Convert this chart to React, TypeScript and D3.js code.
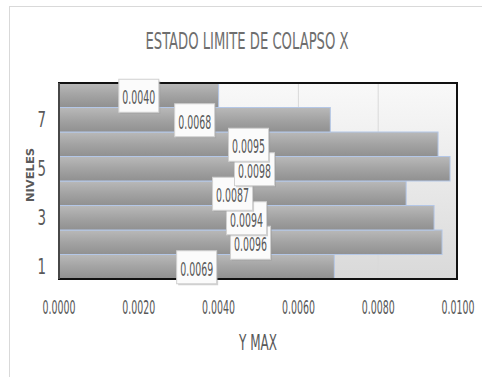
import React from "react";
import * as d3 from "d3";

const levels = [1, 2, 3, 4, 5, 6, 7, 8];
const values = [0.0069, 0.0096, 0.0094, 0.0087, 0.0098, 0.0095, 0.0068, 0.004];
const xTicks = [0, 0.002, 0.004, 0.006, 0.008, 0.01];
const yTickLabels = [1, 3, 5, 7];
const title = "ESTADO LIMITE DE COLAPSO X";
const xTitle = "Y MAX";
const yTitle = "NIVELES";

const W = 482;
const H = 377;
const M = { left: 59, right: 457, top: 83, bottom: 279 };
const FONT = "'Liberation Sans Narrow', 'DejaVu Sans Condensed', 'Liberation Sans', sans-serif";
const TXT = "#595959";

export default function App() {
  const x = d3.scaleLinear().domain([0, 0.01]).range([M.left, M.right + 1]);
  const y = d3
    .scaleBand<number>()
    .domain(levels.slice().reverse())
    .range([M.top, M.bottom])
    .padding(0);
  const fmt = d3.format(".4f");
  const bw = y.bandwidth();

  return (
    <svg
      width={W}
      height={H}
      style={{ position: "absolute", left: 0, top: 0, background: "#fff" }}
    >
      <defs>
        <linearGradient id="plotBg" x1="0" y1="0" x2="0" y2="1">
          <stop offset="0" stopColor="#f9f9f9" />
          <stop offset="1" stopColor="#d9d9d9" />
        </linearGradient>
        <linearGradient id="barG" x1="0" y1="0" x2="0" y2="1">
          <stop offset="0" stopColor="#b9b9b9" />
          <stop offset="0.5" stopColor="#a3a3a3" />
          <stop offset="1" stopColor="#909090" />
        </linearGradient>
      </defs>
      <rect x={9.5} y={6.5} width={W} height={H} fill="#fff" stroke="#d9d9d9" />
      <text
        x={247}
        y={49}
        fontFamily={FONT}
        fontSize={23.5}
        fill="#6e6e6e"
        textLength={203}
        lengthAdjust="spacingAndGlyphs"
        textAnchor="middle"
      >
        {title}
      </text>
      <rect
        x={M.left}
        y={M.top}
        width={M.right - M.left}
        height={M.bottom - M.top}
        fill="url(#plotBg)"
      />
      {xTicks.slice(1, -1).map((t) => (
        <line
          key={t}
          x1={x(t)}
          x2={x(t)}
          y1={M.top}
          y2={M.bottom}
          stroke="#d9d9d9"
          strokeWidth={1}
        />
      ))}
      {levels.map((l, i) => (
        <rect
          key={l}
          x={M.left}
          y={y(l)!}
          width={x(values[i]) - M.left}
          height={bw}
          fill="url(#barG)"
          stroke="#b4c7e7"
          strokeWidth={1}
        />
      ))}
      <rect
        x={M.left}
        y={M.top}
        width={M.right - M.left}
        height={M.bottom - M.top}
        fill="none"
        stroke="#111"
        strokeWidth={2}
      />
      <line x1={M.left} x2={M.left} y1={M.top} y2={M.bottom} stroke="#7f7f7f" strokeWidth={1} />
      {levels.map((l, i) => {
        const cx = x(values[i] / 2);
        const cy = y(l)! + bw / 2;
        return (
          <g key={"lab" + l}>
            <rect x={cx - 20 + 1.5} y={cy - 16 + 1.5} width={40} height={33} fill="#9a9a9a" opacity={0.45} />
            <rect x={cx - 20} y={cy - 16} width={40} height={33} fill="#fbfbfb" stroke="#d0d0d0" strokeWidth={1} />
            <text
              x={cx}
              y={cy + 9}
              fontFamily={FONT}
              fontSize={19}
              fill={TXT}
              textAnchor="middle"
              textLength={33}
              lengthAdjust="spacingAndGlyphs"
            >
              {fmt(values[i])}
            </text>
          </g>
        );
      })}
      {xTicks.map((t) => (
        <text
          key={"xt" + t}
          x={x(t)}
          y={314}
          fontFamily={FONT}
          fontSize={19}
          fill={TXT}
          textAnchor="middle"
          textLength={33}
          lengthAdjust="spacingAndGlyphs"
        >
          {fmt(t)}
        </text>
      ))}
      {yTickLabels.map((l) => (
        <text
          key={"yt" + l}
          x={46}
          y={y(l)! + bw / 2 + 7.5}
          fontFamily={FONT}
          fontSize={20.5}
          fill={TXT}
          textAnchor="end"
          textLength={8.5}
          lengthAdjust="spacingAndGlyphs"
        >
          {l}
        </text>
      ))}
      <text
        x={(M.left + M.right) / 2}
        y={350}
        fontFamily={FONT}
        fontSize={21}
        fill={TXT}
        textAnchor="middle"
        textLength={38}
        lengthAdjust="spacingAndGlyphs"
      >
        {xTitle}
      </text>
      <text
        transform={`translate(34,175) rotate(-90)`}
        fontFamily={FONT}
        fontSize={10}
        fontWeight="bold"
        fill={TXT}
        textAnchor="middle"
        textLength={54}
        lengthAdjust="spacingAndGlyphs"
      >
        {yTitle}
      </text>
    </svg>
  );
}
